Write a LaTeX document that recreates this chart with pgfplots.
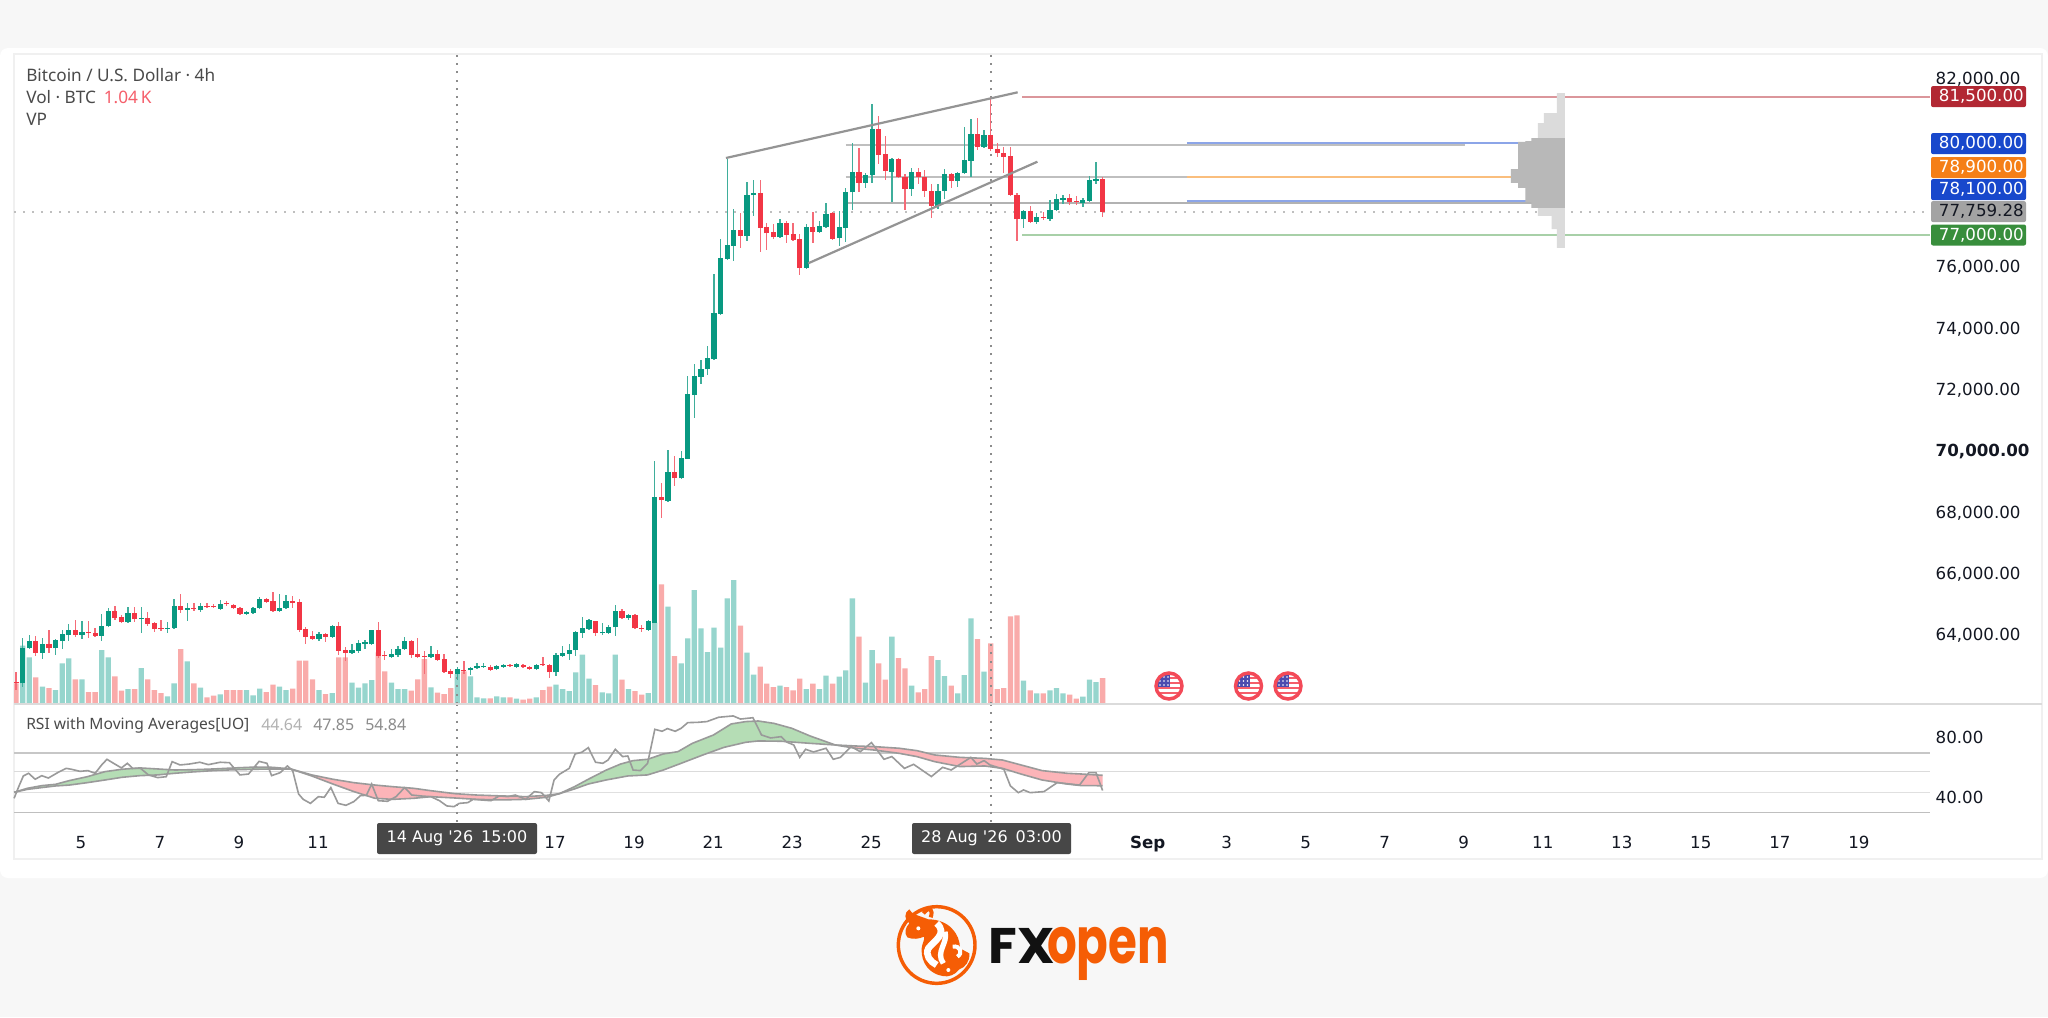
\documentclass[border=0pt]{standalone}
\usepackage{fontspec}
\usepackage{pgfplots}
\usepackage{pgfplotstable}
\pgfplotsset{compat=1.18}
\setmainfont{Noto Sans}
\newfontfamily\logofont{Poppins}
\newfontfamily\tickfont{DejaVu Sans}
\def\u{0.75pt}
\definecolor{upc}{HTML}{089981}
\definecolor{dnc}{HTML}{F23645}
\definecolor{upw}{HTML}{3FAE9B}
\definecolor{dnw}{HTML}{F56B77}
\definecolor{upv}{HTML}{96D5CD}
\definecolor{dnv}{HTML}{F9ABAA}
\definecolor{txt}{HTML}{4A4A4A}
\definecolor{tick}{HTML}{131722}
\definecolor{maline}{HTML}{9A9A9A}
\definecolor{lvred}{RGB}{219,150,155}
\definecolor{lvblue}{RGB}{140,165,232}
\definecolor{lvorange}{RGB}{250,190,125}
\definecolor{lvgreen}{RGB}{168,208,168}
\definecolor{mag}{RGB}{181,221,181}
\definecolor{mar}{RGB}{252,180,184}
\pgfplotstableread{
i t b h l v
0 63544 62384 63849 62274 2333
1 63761 63522 63957 63490 1867
3 63653 63381 63849 63185 693
5 63794 63522 63816 63305 560
6 63990 63761 64120 63490 1627
7 64120 63957 64305 63761 1827
9 64066 63968 64403 63827 987
12 64261 63935 64642 63761 2160
13 64740 64240 64838 64229 1867
16 64675 64370 64881 64359 600
18 64511 64479 64881 64033 1440
22 64196 64164 64370 64033 307
23 64914 64174 65120 64164 827
25 64838 64783 64990 64414 1707
27 64914 64772 64990 64718 653
30 64979 64816 65088 64805 387
34 64707 64653 64740 64609 560
35 64848 64685 64881 64675 347
36 65120 64827 65196 64816 613
39 64838 64740 65294 64718 693
40 65077 64827 65251 64805 560
45 63979 63827 64066 63772 560
47 64261 63903 64272 63892 440
50 63468 63381 63653 63359 853
51 63685 63446 63783 63381 653
52 63718 63675 63783 63490 827
53 64131 63653 64131 63631 960
56 63337 63240 63500 63229 853
57 63511 63305 63587 63250 600
58 63761 63490 63892 63457 600
62 63337 63240 63587 63229 667
66 62837 62696 62924 62490 1200
68 62892 62805 62924 62653 1107
69 62946 62881 63055 62870 267
70 62946 62903 63033 62881 227
72 62957 62837 62968 62816 307
73 62968 62924 63011 62903 267
75 63000 62924 63033 62881 213
78 62990 62837 63000 62827 267
81 63305 62740 63381 62631 773
82 63381 63283 63587 63272 600
83 63479 63348 63653 63142 520
84 64066 63457 64098 63283 1267
85 64185 64033 64533 63859 1973
86 64435 64164 64479 64153 1013
88 64055 64011 64338 63957 467
89 64229 64022 64272 63979 427
90 64740 64207 64946 63935 1973
92 64598 64511 64653 64446 600
95 64403 64131 64435 64120 440
96 68468 64359 69631 64359 3253
98 69262 68327 69990 68305 3893
100 69729 69066 69946 69055 1627
101 71816 69706 72403 69706 2627
102 72403 71783 72794 71044 4560
103 72642 72381 72924 72131 3027
104 72979 72620 73381 72435 2080
105 74446 72957 75729 72946 3053
106 76261 74424 76859 74413 2253
107 76664 76218 79478 76185 4227
108 77153 76653 77838 76164 4960
110 78304 76968 78717 76816 2053
111 78380 78293 78793 77630 1173
115 77392 76925 77522 76914 733
119 77250 75923 77347 75902 600
121 77293 77097 77467 77086 600
122 77695 77271 78043 77260 1133
124 77250 76891 77782 76652 1093
125 78413 77228 78521 76782 1347
126 79054 78391 79989 77826 4227
128 78956 78706 79021 78543 853
129 80456 78945 81261 78706 2160
132 79478 79065 79521 78087 2693
135 79065 78500 79195 78282 733
139 78445 77956 78652 77847 1760
140 79000 78434 79163 78173 1120
142 79032 78771 79065 78565 427
143 79445 79010 80510 79000 1160
144 80293 79423 80782 78902 3427
146 80260 79869 80424 79858 1293
152 77793 77510 77804 77239 933
154 77586 77434 77706 77347 427
156 77826 77532 78141 77456 547
157 78163 77815 78337 77804 640
158 78217 78152 78304 78000 427
161 78141 78043 78195 77923 293
162 78782 78119 78934 78108 973
163 78826 78771 79369 78663 880
}\uptab
\pgfplotstableread{
i t b h l v
-1 62436 62420 62752 62165 827
2 63750 63381 63924 63283 1067
4 63653 63522 64120 63359 640
8 64120 63957 64435 63903 987
10 64055 64033 64403 63859 480
11 64022 63935 64174 63903 480
14 64740 64511 64914 64446 1107
15 64544 64370 64609 64359 533
17 64675 64479 64881 64370 600
19 64500 64316 64707 64250 987
20 64338 64164 64392 64066 560
21 64196 64153 64435 64098 440
24 64914 64783 65294 64685 2200
26 64838 64805 65012 64750 827
28 64903 64859 64990 64838 267
29 64892 64859 64957 64848 333
31 65001 64957 65055 64914 560
32 64946 64827 64979 64805 560
33 64838 64653 64881 64620 560
37 65120 65033 65164 65012 480
38 65055 64740 65359 64718 773
41 65077 65001 65229 64848 613
42 65022 64120 65120 64066 1733
43 64164 63903 64229 63653 1733
44 63924 63827 64098 63794 987
46 63990 63903 64033 63718 400
48 64261 63446 64370 63305 1867
49 63468 63381 63555 63120 1867
54 64120 63272 64370 63196 2067
55 63305 63261 63446 63142 1307
59 63761 63305 63783 63207 533
60 63337 63240 63849 63229 987
61 63272 63240 63446 62685 1800
63 63337 63142 63468 63120 453
64 63174 62761 63337 62750 400
65 62794 62696 62859 62566 640
67 62827 62794 63109 62696 1307
71 62924 62827 62968 62772 227
74 62979 62935 63022 62924 267
76 62990 62913 63011 62903 173
77 62924 62837 62946 62827 213
79 63000 62968 63240 62946 560
80 62968 62740 63011 62566 693
87 64403 64022 64424 63935 760
91 64740 64511 64816 64500 973
93 64598 64174 64631 64164 520
94 64196 64164 64294 64066 373
97 68468 68349 68914 67761 4787
99 69262 69066 69805 68816 1920
109 77153 76968 77707 76577 3133
112 78380 77240 78793 76457 1493
113 77251 77055 77381 76511 813
114 77088 76925 77359 76859 680
116 77392 77001 77446 76751 680
117 77022 76848 77392 76816 547
118 76880 75923 77021 75695 1013
120 77250 77097 77739 76749 813
123 77706 76880 77739 76858 813
127 79065 78706 79847 78413 2693
130 80467 79619 80869 79315 1627
131 79641 79087 80228 78793 973
133 79478 78902 79521 78880 1840
134 78891 78500 78978 77815 1427
136 79054 78891 79173 78652 467
137 78891 78434 79119 78239 600
138 78445 77956 78652 77565 1920
141 79000 78771 79021 78543 733
145 80293 79869 80804 79771 2600
147 80260 79804 81510 79750 2427
148 79815 79663 79989 79554 600
149 79673 79554 79858 79010 640
150 79576 78304 79869 78282 3504
151 78315 77510 78380 76815 3550
153 77793 77434 77934 77423 547
155 77586 77543 77750 77478 427
159 78206 78076 78337 77967 373
160 78108 78076 78271 77989 213
164 78826 77759 78891 77597 1040
}\dntab
% RSI
\pgfplotstableread{
x v
-1.3 39.4
-0.6 47.2
0.1 54.4
0.9 56.2
1.9 52.2
2.9 54.6
3.9 53.0
5.3 56.6
6.6 59.5
7.4 58.9
8.7 57.5
9.9 58.0
11.0 56.2
12.0 61.8
12.8 65.6
13.8 62.9
15.0 59.8
15.9 62.9
16.7 59.5
17.9 59.5
19.1 55.1
20.5 53.3
21.8 53.9
22.7 64.0
23.9 61.8
25.3 62.4
26.9 63.6
28.2 62.0
30.0 63.6
31.4 63.3
33.0 55.1
34.3 55.7
35.9 64.2
37.1 62.9
37.8 54.6
39.1 56.6
40.2 61.1
41.0 58.0
41.9 42.3
42.6 38.7
43.7 36.0
44.9 40.5
45.8 40.1
46.8 46.6
47.9 36.0
49.1 34.7
50.3 37.2
51.3 41.2
52.2 41.4
53.0 49.0
54.0 37.8
55.4 37.4
56.7 40.5
58.0 46.6
59.1 41.6
60.4 41.0
62.0 40.5
63.3 37.8
64.4 34.3
65.5 33.8
66.3 36.0
67.6 36.5
68.4 38.7
71.1 37.8
72.4 41.0
73.7 40.5
74.8 41.6
76.4 38.7
77.7 43.9
78.8 43.2
79.9 37.6
80.7 51.7
81.5 55.5
83.0 59.5
83.9 69.2
84.9 70.3
85.9 73.4
87.0 63.6
88.1 62.9
88.9 65.1
90.0 72.3
91.1 67.4
91.9 67.8
92.7 58.4
93.8 58.0
94.9 62.9
96.0 85.7
97.1 84.4
97.9 86.2
99.1 84.4
100.0 86.4
101.0 90.2
102.5 90.4
103.9 90.9
105.7 93.8
107.9 94.7
109.0 92.6
110.9 93.5
112.2 81.9
113.6 79.9
115.2 80.8
116.0 77.2
117.1 75.2
118.0 66.9
118.9 72.3
120.1 70.5
122.0 73.0
123.1 65.6
124.2 66.9
125.8 74.1
127.2 70.7
128.9 76.8
130.8 65.6
132.0 67.4
133.9 59.5
135.3 62.2
138.0 54.0
139.7 60.2
141.0 58.4
144.0 66.9
144.9 62.4
146.0 64.7
146.9 61.8
149.0 58.9
150.0 47.7
151.2 43.2
152.0 45.0
153.0 43.2
155.1 43.9
157.1 49.9
160.5 48.3
161.9 56.6
163.0 56.6
164.0 44.64
}\rsitab
\pgfplotstableread{
x v
-1.3 43.4
0.7 46.1
2.9 47.9
5.0 48.8
7.1 51.3
9.8 53.9
12.5 57.3
15.1 58.9
17.8 59.8
20.5 59.1
23.1 58.4
25.8 58.6
29.0 59.1
32.2 59.8
35.4 60.4
38.0 60.2
40.7 59.1
43.9 54.4
47.1 49.0
50.3 43.9
53.5 39.4
56.2 38.7
59.4 39.4
62.0 40.5
65.7 39.6
68.9 38.7
72.7 38.3
76.4 38.7
79.6 40.1
81.5 42.5
83.8 47.2
85.9 52.2
88.6 58.3
90.8 62.4
92.7 64.7
94.9 65.6
97.3 69.2
99.5 70.7
101.7 76.3
104.9 81.9
107.6 89.3
109.8 90.9
111.7 91.3
114.1 89.7
116.8 86.4
119.6 81.2
123.4 75.2
126.6 72.9
129.3 71.8
133.1 69.6
135.8 67.4
138.5 64.0
142.3 60.7
146.1 61.1
148.8 59.5
151.6 55.7
154.8 51.7
158.6 49.0
160.8 47.9
164.0 47.85
}\fasttab
\pgfplotstableread{
x v
-1.3 43.4
0.7 45.4
2.9 46.6
5.0 47.7
7.1 48.3
9.8 49.9
12.5 51.7
15.1 53.5
17.8 54.6
20.5 55.1
23.1 56.2
25.8 57.1
29.0 58.0
32.2 58.6
35.4 58.9
38.0 59.1
40.7 59.1
43.9 55.1
47.1 52.2
50.3 49.9
53.5 48.3
56.2 47.2
59.4 46.1
62.0 44.5
65.7 42.5
68.9 41.6
72.7 41.0
76.4 40.5
79.6 41.4
81.5 42.5
83.8 45.7
85.9 49.0
88.6 51.7
91.9 54.4
94.9 55.1
97.3 58.4
100.0 62.9
103.3 68.5
106.5 73.6
109.8 77.0
111.7 77.9
115.2 77.7
119.6 76.3
123.4 75.2
126.6 74.5
129.3 74.1
133.1 73.0
135.8 71.4
138.5 68.5
142.3 66.9
146.1 66.2
148.8 65.1
151.6 61.8
154.8 58.0
158.6 56.2
160.8 55.7
164.0 54.84
}\slowtab
\pgfplotsset{
  base/.style={scale only axis, width=1916*\u, xmin=-1.317, xmax=289.65, enlargelimits=false, scaled y ticks=false, scaled x ticks=false},
  wick/.style={draw=none, no markers, forget plot, error bars/.cd, y dir=both, y explicit, error mark=none, error bar style={line width=1.3*\u, draw=#1}},
  body/.style={draw=none, no markers, forget plot, error bars/.cd, y dir=plus, y explicit, error mark=none, error bar style={line width=5.2*\u, draw=#1}},
  lvl/.style={forget plot, line width=2*\u, color=#1},
}
\newcommand\usflag[2]{%
  \begin{scope}[shift={(#1,#2)}]
    \fill[white] (0,0) circle (16);
    \begin{scope}
      \clip (0,0) circle (12);
      \fill[white] (-12,-12) rectangle (12,12);
      \foreach \y in {-9,-4,1,6}{\fill[dnc!80] (-12,\y) rectangle (12,\y+2.4);}
      \fill[blue!55!black!70] (-12,-12) rectangle (1,1);
      \foreach \y in {-9,-5,-1}{\foreach \x in {-9,-5,-1}{\fill[white] (\x,\y) circle (0.9);}}
    \end{scope}
    \draw[dnc!90, line width=2.6] (0,0) circle (13);
  \end{scope}}
\begin{document}
\begin{tikzpicture}
\path[use as bounding box] (0,0) rectangle (2048*\u,-1017*\u);
\begin{scope}[x=0.75pt,y=-0.75pt]
  \fill[black!3] (0,0) rectangle (2048,1017);
  \fill[white, rounded corners=6] (0,48) rectangle (2048,878);
  \draw[black!6, line width=1.5] (14,54) rectangle (2042,859);
\end{scope}
% volume pane
\begin{axis}[base, at={(14*\u,-704*\u)}, anchor=south west, height=130*\u, ymin=0, ymax=5200, hide axis]
\addplot[ybar, bar width=5.3*\u, bar shift=0pt, fill=upv, draw=none, forget plot] table[x=i,y=v] {\uptab};
\addplot[ybar, bar width=5.3*\u, bar shift=0pt, fill=dnv, draw=none, forget plot] table[x=i,y=v] {\dntab};
\end{axis}
% price pane
\begin{axis}[base, at={(14*\u,-704*\u)}, anchor=south west, height=650*\u,
  ymin=61708, ymax=82902, axis line style={draw=none}, tick style={draw=none},
  xtick=\empty, yticklabel pos=right,
  ytick={64000,66000,68000,70000,72000,74000,76000,82130},
  yticklabels={64{,}000.00,66{,}000.00,68{,}000.00,\textbf{70{,}000.00},72{,}000.00,74{,}000.00,76{,}000.00,82{,}000.00},
  yticklabel style={font=\tickfont\fontsize{12.5}{14}\selectfont, text=tick, xshift=1*\u, yshift=-2*\u}]
% price dotted line and crosshairs
\addplot[forget plot, color=black!25, line width=2*\u, dash pattern=on 2*\u off 7*\u] coordinates {(-1.317,77759) (289.65,77759)};
\addplot[forget plot, color=black!45, line width=2*\u, dash pattern=on 2*\u off 6.3*\u] coordinates {(66,61708) (66,82902)};
\addplot[forget plot, color=black!45, line width=2*\u, dash pattern=on 2*\u off 6.3*\u] coordinates {(147,61708) (147,82902)};
% level lines
\addplot[lvl=black!25] coordinates {(125,79950) (219,79950)};
\addplot[lvl=black!25] coordinates {(125,78900) (176.8,78900)};
\addplot[lvl=black!30] coordinates {(125,78060) (232,78060)};
\addplot[lvl=lvred] coordinates {(151.8,81500) (289.65,81500)};
\addplot[lvl=lvblue] coordinates {(176.8,80000) (227.1,80000)};
\addplot[lvl=lvorange] coordinates {(176.8,78885) (226,78885)};
\addplot[lvl=lvblue] coordinates {(176.8,78100) (229.2,78100)};
\addplot[lvl=lvgreen] coordinates {(151.8,77000) (289.65,77000)};
% volume profile
\addplot[forget plot, fill=black!14, draw=none] coordinates {(233,81630) (234.2,81630) (234.2,80163) (230.1,80163) (230.1,80652) (231,80652) (231,80978) (233,80978)} -- cycle;
\addplot[forget plot, fill=black!14, draw=none] coordinates {(230.1,77881) (234.2,77881) (234.2,76577) (233,76577) (233,77196) (232.2,77196) (232.2,77620) (230.1,77620)} -- cycle;
\addplot[forget plot, fill=black!28, draw=none] coordinates {(234.2,80163) (229.1,80163) (229.1,80065) (228.2,80065) (228.2,80033) (227.1,80033) (227.1,79152) (226,79152) (226,78696) (227.1,78696) (227.1,78533) (228.2,78533) (228.2,78076) (229.1,78076) (229.1,77881) (234.2,77881)} -- cycle;
% candles
\addplot[wick=upw] table[x=i,y=b,y error plus expr=\thisrow{h}-\thisrow{b},y error minus expr=\thisrow{b}-\thisrow{l}] {\uptab};
\addplot[wick=dnw] table[x=i,y=b,y error plus expr=\thisrow{h}-\thisrow{b},y error minus expr=\thisrow{b}-\thisrow{l}] {\dntab};
\addplot[body=upc] table[x=i,y=b,y error plus expr=\thisrow{t}-\thisrow{b}] {\uptab};
\addplot[body=dnc] table[x=i,y=b,y error plus expr=\thisrow{t}-\thisrow{b}] {\dntab};
% trend lines
\addplot[forget plot, color=black!42, line width=2.2*\u] coordinates {(106.8,79511) (151.1,81653)};
\addplot[forget plot, color=black!42, line width=2.2*\u] coordinates {(119.3,76078) (154.1,79390)};
\end{axis}
% RSI pane
\begin{axis}[base, at={(14*\u,-812.3*\u)}, anchor=south west, height=108.3*\u,
  ymin=30, ymax=102.7, clip=false, axis line style={draw=none}, tick style={draw=none},
  yticklabel pos=right, ytick={40,80}, yticklabels={40.00,80.00},
  yticklabel style={font=\tickfont\fontsize{12.5}{14}\selectfont, text=tick, xshift=1*\u},
  xtick={8.85,20.85,32.85,44.85,80.85,92.85,104.85,116.85,128.85,170.85,182.85,194.85,206.85,218.85,230.85,242.85,254.85,266.85,278.85},
  xticklabels={5,7,9,11,17,19,21,23,25,\textbf{Sep},3,5,7,9,11,13,15,17,19},
  xticklabel style={font=\tickfont\fontsize{12.5}{14}\selectfont, text=tick, yshift=-19*\u}]
\addplot[forget plot, color=black!22, line width=1.6*\u] coordinates {(-1.317,70) (289.65,70)};
\addplot[forget plot, color=black!14, line width=1.3*\u] coordinates {(-1.317,57.2) (289.65,57.2)};
\addplot[forget plot, color=black!12, line width=1.3*\u] coordinates {(-1.317,43.4) (289.65,43.4)};
\addplot[forget plot, color=black!25, line width=1.5*\u] coordinates {(-1.317,30) (289.65,30)};
\addplot[forget plot, color=black!45, line width=2*\u, dash pattern=on 2*\u off 6.3*\u] coordinates {(66,102.7) (66,22.8)};
\addplot[forget plot, color=black!45, line width=2*\u, dash pattern=on 2*\u off 6.3*\u] coordinates {(147,102.7) (147,22.8)};
% fills between the averages
\addplot[forget plot, fill=mag, draw=none] coordinates {(-1.3,43.4)(0.7,46.1)(2.9,47.9)(5.0,48.8)(7.1,51.3)(9.8,53.9)(12.5,57.3)(15.1,58.9)(17.8,59.8)(20.5,59.1)(23.1,58.4)(25.8,58.6)(29.0,59.1)(32.2,59.8)(35.4,60.4)(38.0,60.2)(40.7,59.1)(38.0,59.1)(35.4,58.9)(32.2,58.6)(29.0,58.0)(25.8,57.1)(23.1,56.2)(20.5,55.1)(17.8,54.6)(15.1,53.5)(12.5,51.7)(9.8,49.9)(7.1,48.3)(5.0,47.7)(2.9,46.6)(0.7,45.4)} -- cycle;
\addplot[forget plot, fill=mar, draw=none] coordinates {(40.7,59.1)(43.9,54.4)(47.1,49.0)(50.3,43.9)(53.5,39.4)(56.2,38.7)(59.4,39.4)(62.0,40.5)(65.7,39.6)(68.9,38.7)(72.7,38.3)(76.4,38.7)(79.6,40.1)(81.5,42.5)(79.6,41.4)(76.4,40.5)(72.7,41.0)(68.9,41.6)(65.7,42.5)(62.0,44.5)(59.4,46.1)(56.2,47.2)(53.5,48.3)(50.3,49.9)(47.1,52.2)(43.9,55.1)} -- cycle;
\addplot[forget plot, fill=mag, draw=none] coordinates {(81.5,42.5)(83.8,47.2)(85.9,52.2)(88.6,58.3)(90.8,62.4)(92.7,64.7)(94.9,65.6)(97.3,69.2)(99.5,70.7)(101.7,76.3)(104.9,81.9)(107.6,89.3)(109.8,90.9)(111.7,91.3)(114.1,89.7)(116.8,86.4)(119.6,81.2)(123.4,75.2)(119.6,76.3)(115.2,77.7)(111.7,77.9)(109.8,77.0)(106.5,73.6)(103.3,68.5)(100.0,62.9)(97.3,58.4)(94.9,55.1)(91.9,54.4)(88.6,51.7)(85.9,49.0)(83.8,45.7)} -- cycle;
\addplot[forget plot, fill=mar, draw=none] coordinates {(123.4,75.2)(126.6,74.5)(129.3,74.1)(133.1,73.0)(135.8,71.4)(138.5,68.5)(142.3,66.9)(146.1,66.2)(148.8,65.1)(151.6,61.8)(154.8,58.0)(158.6,56.2)(160.8,55.7)(164.0,54.84)(164.0,47.85)(160.8,47.9)(158.6,49.0)(154.8,51.7)(151.6,55.7)(148.8,59.5)(146.1,61.1)(142.3,60.7)(138.5,64.0)(135.8,67.4)(133.1,69.6)(129.3,71.8)(126.6,72.9)} -- cycle;
\addplot[forget plot, color=maline, line width=1.6*\u] table[x=x,y=v] {\fasttab};
\addplot[forget plot, color=maline, line width=1.6*\u] table[x=x,y=v] {\slowtab};
\addplot[forget plot, color=maline, line width=1.6*\u] table[x=x,y=v] {\rsitab};
\end{axis}
% texts and furniture
\begin{scope}[x=0.75pt,y=-0.75pt, every node/.style={inner sep=0pt}]
  \draw[black!14, line width=1.2] (14,704) -- (2042,704);
  \node[anchor=west, text=txt, font=\fontsize{12.9}{14}\selectfont] at (26,75) {Bitcoin / U.S. Dollar · 4h};
  \node[anchor=west, text=txt, font=\fontsize{12.9}{14}\selectfont] at (26,97) {Vol · BTC\hspace{6pt}\textcolor{dnc!80}{1.04\,K}};
  \node[anchor=west, text=txt, font=\fontsize{12.9}{14}\selectfont] at (26,119) {VP};
  \node[anchor=west, text=txt, font=\fontsize{11.7}{14}\selectfont] at (26,725) {RSI with Moving Averages[UO]};
  \node[anchor=west, text=black!30, font=\fontsize{12}{14}\selectfont] at (261,725) {44.64};
  \node[anchor=west, text=black!45, font=\fontsize{12}{14}\selectfont] at (313,725) {47.85};
  \node[anchor=west, text=black!45, font=\fontsize{12}{14}\selectfont] at (365,725) {54.84};
  % price badges
  \foreach \yy/\col/\tcol/\lab in {96.6/B22833/FFFFFF/{81,500.00},143.6/1848CC/FFFFFF/{80,000.00},167.5/F57F17/FFFFFF/{78,900.00},189.6/1848CC/FFFFFF/{78,100.00},211.6/A3A3A3/131722/{77,759.28},235/388E3C/FFFFFF/{77,000.00}}{
    \definecolor{bc}{HTML}{\col}\definecolor{tc}{HTML}{\tcol}
    \fill[bc, rounded corners=1.5] (1931,\yy-10.5) rectangle (2026,\yy+10.5);
    \node[text=tc, anchor=east, font=\tickfont\fontsize{12.5}{14}\selectfont] at (2024,\yy) {\lab};
  }
  % date boxes
  \fill[black!72, rounded corners=1.5] (377,823) rectangle (537,854);
  \node[text=white, font=\tickfont\fontsize{12}{14}\selectfont] at (457,838.5) {14 Aug '26\hspace{6pt}15:00};
  \fill[black!72, rounded corners=1.5] (912,823) rectangle (1071,854);
  \node[text=white, font=\tickfont\fontsize{12}{14}\selectfont] at (991.5,838.5) {28 Aug '26\hspace{6pt}03:00};
  % event flags
  \usflag{1169}{686}\usflag{1248.5}{686}\usflag{1288}{686}
  % logo
  \definecolor{lg}{HTML}{F55D05}
  \definecolor{lk}{HTML}{111111}
  \node[anchor=base west, text=lk, xscale=1.05, font=\logofont\bfseries\fontsize{37.5}{40}\selectfont] at (988,963) {FX};
  \node[anchor=base west, text=lg, xscale=0.73, font=\logofont\bfseries\fontsize{48}{50}\selectfont] at (1047,963) {open};
  \begin{scope}[shift={(880,890)}, x=0.25pt, y=-0.25pt]
    \draw[lg, line width=2.6] (170,165) circle (115);
    \fill[lg] (145,88) .. controls (205,88) and (240,130) .. (240,175) -- (268,190) .. controls (270,215) and (255,232) .. (238,238) .. controls (225,255) and (205,262) .. (188,258) .. controls (150,252) and (122,220) .. (125,175) .. controls (126,160) and (135,150) .. (132,140) .. controls (118,146) and (100,150) .. (82,142) .. controls (72,130) and (76,112) .. (88,100) .. controls (72,88) and (72,68) .. (88,58) .. controls (92,72) and (120,78) .. (145,88) -- cycle;
    \draw[white, line width=5] (170,100) .. controls (205,130) and (160,155) .. (145,175) .. controls (135,195) and (150,215) .. (170,225);
    \draw[white, line width=4] (195,125) .. controls (205,160) and (165,185) .. (190,220);
    \fill[white] (115,115) circle (6);
    \fill[white] (205,240) circle (6);
    \draw[lg, line width=3] (130,70) .. controls (150,45) and (160,60) .. (152,82);
    \draw[white, line width=3] (218,170) .. controls (240,165) and (250,190) .. (232,200);
  \end{scope}
\end{scope}
\end{tikzpicture}
\end{document}
